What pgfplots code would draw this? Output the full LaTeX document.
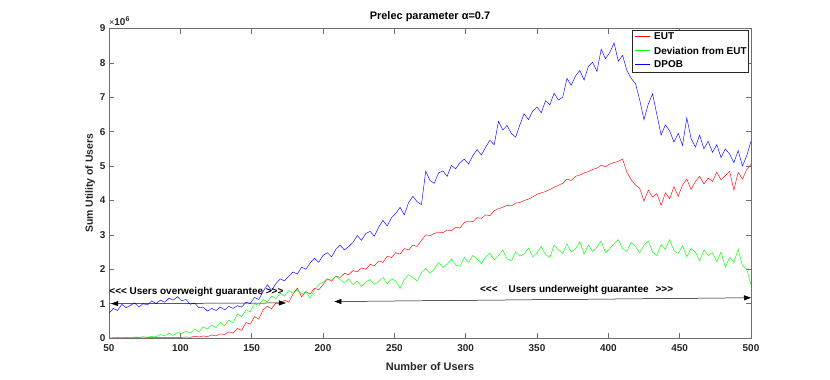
\documentclass[border=0pt]{standalone}
\usepackage{fontspec}
\setmainfont{Liberation Sans}
\usepackage{pgfplots}
\pgfplotsset{compat=1.18}
\usetikzlibrary{arrows.meta}

\definecolor{axgray}{RGB}{110,110,110}
\definecolor{txtgray}{RGB}{38,38,38}

% values in units of 10^6
\pgfplotstableread{
x y
50 0.00
53 0.00
56 0.01
59 0.00
62 0.01
65 0.00
68 0.01
71 0.01
74 0.00
77 0.01
80 0.01
83 0.02
86 0.01
89 0.02
92 0.01
95 0.02
98 0.01
101 0.02
104 0.03
107 0.02
110 0.05
113 0.03
116 0.06
119 0.04
122 0.09
125 0.06
128 0.12
131 0.10
134 0.18
137 0.14
140 0.28
143 0.22
146 0.45
149 0.40
152 0.62
155 0.55
158 0.82
161 0.92
164 0.85
167 1.02
170 0.98
173 1.10
176 1.04
179 1.28
182 1.45
185 1.20
188 1.35
191 1.28
194 1.45
197 1.40
200 1.55
203 1.72
206 1.65
209 1.80
212 1.76
215 1.88
218 1.84
221 1.96
224 1.92
227 2.04
230 2.00
233 2.14
236 2.10
239 2.24
242 2.20
245 2.38
248 2.34
251 2.48
254 2.44
257 2.60
260 2.56
263 2.70
266 2.66
269 2.84
272 3.00
275 2.98
278 3.04
281 3.08
284 3.06
287 3.14
290 3.12
293 3.22
296 3.20
299 3.36
302 3.40
305 3.38
308 3.50
311 3.48
314 3.58
317 3.56
320 3.70
323 3.76
326 3.80
329 3.86
332 3.84
335 3.92
338 3.94
341 4.00
344 4.04
347 4.10
350 4.18
353 4.22
356 4.26
359 4.32
362 4.38
365 4.44
368 4.50
371 4.62
374 4.58
377 4.70
380 4.74
383 4.80
386 4.84
389 4.90
392 4.94
395 5.02
398 4.98
401 5.06
404 5.10
407 5.14
410 5.20
413 4.82
416 4.60
419 4.45
422 4.35
425 3.98
428 4.30
431 4.10
434 4.20
437 3.86
440 4.22
443 4.05
446 4.40
449 4.12
452 4.45
455 4.62
458 4.32
461 4.55
464 4.70
467 4.48
470 4.65
473 4.55
476 4.82
479 4.60
482 4.72
485 4.85
488 4.30
491 4.82
494 4.62
497 4.90
500 5.05
}\eut

\pgfplotstableread{
x y
50 0.00
53 0.01
56 0.00
59 0.01
62 0.02
65 0.01
68 0.03
71 0.02
74 0.04
77 0.02
80 0.05
83 0.04
86 0.10
89 0.06
92 0.14
95 0.08
98 0.16
101 0.12
104 0.20
107 0.14
110 0.26
113 0.18
116 0.32
119 0.26
122 0.38
125 0.30
128 0.45
131 0.36
134 0.52
137 0.44
140 0.70
143 0.62
146 0.82
149 0.76
152 1.00
155 0.95
158 1.12
161 1.05
164 1.22
167 1.14
170 1.30
173 1.22
176 1.38
179 1.30
182 1.40
185 1.28
188 1.34
191 1.16
194 1.40
197 1.55
200 1.62
203 1.72
206 1.68
209 1.80
212 1.70
215 1.60
218 1.72
221 1.55
224 1.66
227 1.50
230 1.62
233 1.70
236 1.56
239 1.64
242 1.76
245 1.58
248 1.72
251 1.66
254 1.44
257 1.70
260 1.84
263 1.76
266 1.66
269 1.90
272 2.02
275 1.88
278 2.00
281 2.20
284 2.06
287 2.14
290 2.30
293 2.12
296 2.08
299 2.34
302 2.20
305 2.40
308 2.30
311 2.16
314 2.36
317 2.46
320 2.28
323 2.40
326 2.56
329 2.30
332 2.24
335 2.50
338 2.38
341 2.44
344 2.62
347 2.36
350 2.48
353 2.66
356 2.42
359 2.34
362 2.70
365 2.56
368 2.46
371 2.74
374 2.50
377 2.60
380 2.80
383 2.44
386 2.70
389 2.52
392 2.64
395 2.82
398 2.48
401 2.60
404 2.74
407 2.86
410 2.60
413 2.52
416 2.78
419 2.66
422 2.48
425 2.70
428 2.82
431 2.50
434 2.40
437 2.72
440 2.58
443 2.86
446 2.54
449 2.46
452 2.68
455 2.36
458 2.60
461 2.50
464 2.24
467 2.56
470 2.40
473 2.48
476 2.22
479 2.50
482 2.06
485 2.34
488 2.20
491 2.58
494 2.10
497 2.00
500 1.55
}\dev

\pgfplotstableread{
x y
50 0.72
53 0.86
56 0.80
59 0.98
62 0.88
65 0.95
68 1.02
71 0.90
74 1.00
77 0.96
80 1.08
83 1.00
86 1.10
89 1.04
92 1.16
95 1.10
98 1.20
101 1.08
104 1.12
107 0.98
110 1.02
113 0.88
116 0.90
119 0.78
122 0.86
125 0.80
128 0.90
131 0.82
134 0.92
137 0.86
140 0.94
143 0.90
146 1.04
149 1.00
152 1.18
155 1.12
158 1.35
161 1.55
164 1.38
167 1.58
170 1.72
173 1.66
176 1.80
179 1.92
182 1.86
185 2.06
188 2.00
191 2.18
194 2.32
197 2.20
200 2.40
203 2.48
206 2.36
209 2.58
212 2.70
215 2.56
218 2.66
221 2.78
224 2.98
227 2.84
230 3.04
233 3.10
236 2.96
239 3.22
242 3.42
245 3.26
248 3.50
251 3.62
254 3.80
257 3.58
260 3.94
263 4.12
266 3.96
269 3.88
272 4.85
275 4.58
278 4.50
281 4.80
284 4.86
287 4.70
290 5.02
293 4.92
296 5.10
299 5.20
302 5.06
305 5.30
308 5.48
311 5.32
314 5.55
317 5.75
320 5.62
323 6.30
326 6.05
329 6.18
332 5.95
335 5.84
338 6.20
341 6.52
344 6.35
347 6.60
350 6.72
353 6.55
356 6.90
359 6.78
362 7.12
365 6.92
368 7.00
371 7.55
374 7.35
377 7.62
380 7.78
383 7.50
386 7.90
389 8.02
392 7.75
395 8.40
398 8.12
401 8.30
404 8.58
407 8.05
410 8.22
413 7.78
416 7.55
419 7.40
422 6.92
425 6.35
428 6.80
431 7.10
434 6.50
437 5.90
440 6.20
443 6.02
446 5.70
449 5.95
452 5.60
455 6.40
458 5.80
461 5.55
464 5.90
467 5.50
470 5.72
473 5.40
476 5.62
479 5.25
482 5.50
485 5.35
488 5.10
491 5.45
494 5.00
497 5.30
500 5.72
}\dpob

\begin{document}
\begin{tikzpicture}
\useasboundingbox (-109bp,-42bp) rectangle (721bp,338bp);
\begin{axis}[
  name=ax,
  at={(0,0)}, anchor=south west,
  scale only axis,
  width=642bp, height=309.5bp,
  xmin=50, xmax=500, ymin=0, ymax=9,
  xtick={50,100,...,500},
  ytick={0,1,...,9},
  tick align=inside,
  major tick length=5bp,
  axis line style={axgray, line width=0.6bp},
  tick style={axgray, line width=0.6bp},
  /pgf/number format/assume math mode=true,
  tick label style={font=\bfseries\fontsize{10}{12}\selectfont, text=txtgray},
  xticklabel style={yshift=-3bp},
  xlabel={Number of Users},
  ylabel={Sum Utility of Users},
  xlabel style={font=\bfseries\fontsize{11}{13}\selectfont, text=txtgray, yshift=-4bp},
  ylabel style={font=\bfseries\fontsize{10.5}{12}\selectfont, text=txtgray, yshift=-2bp},
  title={Prelec parameter α=0.7},
  title style={font=\bfseries\fontsize{11}{13}\selectfont, yshift=-2.5bp},
  clip=false,
]
\addplot[color=red, line width=0.45bp] table[x=x, y=y] {\eut};
\addplot[color=green, line width=0.45bp] table[x=x, y=y] {\dev};
\addplot[color=blue, line width=0.45bp] table[x=x, y=y] {\dpob};

\node[anchor=base west, inner sep=0, text=txtgray] at (rel axis cs:0,1) [yshift=3.5bp]
  {{\fontsize{9}{10}\selectfont ×}\bfseries\fontsize{10}{12}\selectfont 10\textsuperscript{6}};

\draw[black, line width=0.5bp, {Triangle[length=7bp,width=5bp]}-{Triangle[length=7bp,width=5bp]}]
  (axis cs:51.5,1.0) -- (axis cs:174,1.02);
\draw[black, line width=0.5bp, {Triangle[length=7bp,width=5bp]}-{Triangle[length=7bp,width=5bp]}]
  (axis cs:208,1.06) -- (axis cs:500,1.17);
\node[anchor=base west, inner sep=0, font=\bfseries\fontsize{10}{12}\selectfont]
  at (axis cs:50.2,1.27) {<{}<{}< Users overweight guarantee >{}>{}>};
\node[anchor=base west, inner sep=0, font=\bfseries\fontsize{10}{12}\selectfont]
  at (axis cs:310,1.32) {<{}<{}<\hspace{11bp}Users underweight guarantee\hspace{7bp}>{}>{}>};
\end{axis}

% legend box (top right, inside the axis)
\begin{scope}[shift={(ax.north east)}]
  \draw[txtgray, fill=white, line width=0.5bp] (-119bp,-1.5bp) rectangle (-3bp,-43.5bp);
  \draw[red, line width=0.6bp]   (-116bp,-8bp)  -- (-101bp,-8bp);
  \draw[green, line width=0.6bp] (-116bp,-22bp) -- (-101bp,-22bp);
  \draw[blue, line width=0.6bp]  (-116bp,-36bp) -- (-101bp,-36bp);
  \begin{scope}[every node/.style={anchor=west, inner sep=0, text=black,
      font=\bfseries\fontsize{10}{12}\selectfont}]
    \node at (-97bp,-8bp)  {EUT};
    \node at (-97bp,-22bp) {Deviation from EUT};
    \node at (-97bp,-36bp) {DPOB};
  \end{scope}
\end{scope}
\end{tikzpicture}
\end{document}
